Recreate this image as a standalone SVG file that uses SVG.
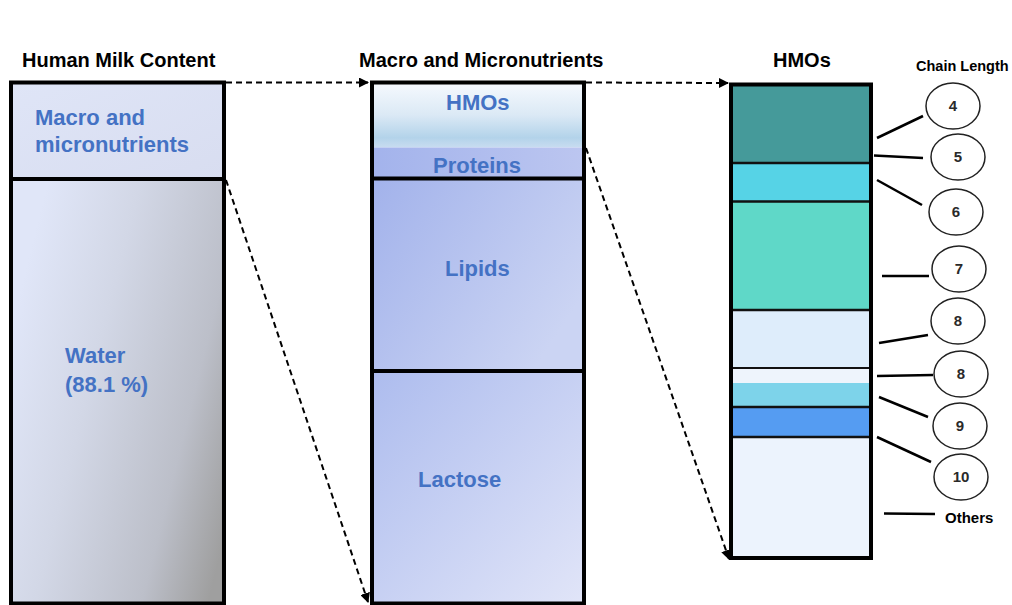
<svg xmlns="http://www.w3.org/2000/svg" width="1012" height="605" viewBox="0 0 1012 605">
  <defs>
    <linearGradient id="gTop" x1="0" y1="0" x2="1" y2="1">
      <stop offset="0" stop-color="#dfe5f7"/>
      <stop offset="1" stop-color="#d8ddf0"/>
    </linearGradient>
    <linearGradient id="gWater" x1="0" y1="0.35" x2="1" y2="0.85">
      <stop offset="0" stop-color="#e0e6f8"/>
      <stop offset="0.35" stop-color="#d2d7e6"/>
      <stop offset="0.75" stop-color="#bcbfc9"/>
      <stop offset="1" stop-color="#9f9f9f"/>
    </linearGradient>
    <linearGradient id="gHmo" x1="0" y1="0" x2="0" y2="1">
      <stop offset="0" stop-color="#f6f9fe"/>
      <stop offset="0.5" stop-color="#dbe9f5"/>
      <stop offset="0.85" stop-color="#b3d3ea"/>
      <stop offset="1" stop-color="#c8dcf0"/>
    </linearGradient>
    <linearGradient id="gProt" x1="0" y1="0" x2="1" y2="0">
      <stop offset="0" stop-color="#a3b3ec"/>
      <stop offset="1" stop-color="#bcc6f0"/>
    </linearGradient>
    <linearGradient id="gLip" x1="0" y1="0" x2="1" y2="0.6">
      <stop offset="0" stop-color="#a2b2eb"/>
      <stop offset="1" stop-color="#cbd4f3"/>
    </linearGradient>
    <linearGradient id="gLac" x1="0" y1="0" x2="1" y2="1">
      <stop offset="0" stop-color="#adbcee"/>
      <stop offset="1" stop-color="#e1e5f8"/>
    </linearGradient>
    <marker id="arrow" viewBox="0 0 10 10" refX="9" refY="5" markerWidth="5" markerHeight="5" orient="auto">
      <path d="M0,0 L10,5 L0,10 z" fill="#000"/>
    </marker>
  </defs>
  <style>
    .title { font-family: "Liberation Sans", Arial, sans-serif; font-weight: bold; font-size: 20px; fill: #000; }
    .lbl { font-family: "Liberation Sans", Arial, sans-serif; font-weight: bold; font-size: 22px; fill: #4472c4; }
    .num { font-family: "Liberation Sans", Arial, sans-serif; font-weight: bold; font-size: 15px; fill: #2a2a2a; text-anchor: middle; }
    .frame { fill: none; stroke: #000; stroke-width: 4; }
    .div { stroke: #000; stroke-width: 4; }
    .seg { stroke: #111; stroke-width: 2.5; }
    .dash { fill: none; stroke: #000; stroke-width: 2; stroke-dasharray: 6 4; }
    .lead { stroke: #000; stroke-width: 2.5; }
    .circ { fill: #fff; stroke: #222; stroke-width: 1.5; }
  </style>

  <rect width="1012" height="605" fill="#fff"/>

  <!-- column headings -->
  <text class="title" x="22" y="67">Human Milk Content</text>
  <text class="title" x="359" y="67">Macro and Micronutrients</text>
  <text class="title" x="773" y="67">HMOs</text>
  <text class="title" x="916" y="71" style="font-size:14.5px">Chain Length</text>

  <!-- whole milk -->
  <g id="milk">
    <rect x="11" y="82.5" width="213" height="96.5" fill="url(#gTop)"/>
    <rect x="11" y="179" width="213" height="424.5" fill="url(#gWater)"/>
    <rect class="frame" x="11" y="82.5" width="213" height="521"/>
    <line class="div" x1="11" y1="179" x2="224" y2="179"/>
    <text class="lbl" x="35" y="125">Macro and</text>
    <text class="lbl" x="35" y="152">micronutrients</text>
    <text class="lbl" x="65" y="363">Water</text>
    <text class="lbl" x="65" y="392">(88.1 %)</text>
  </g>

  <!-- macro and micronutrients -->
  <g id="nutrients">
    <rect x="372" y="82.5" width="212" height="65" fill="url(#gHmo)"/>
    <rect x="372" y="147.5" width="212" height="31" fill="url(#gProt)"/>
    <rect x="372" y="178.5" width="212" height="192.5" fill="url(#gLip)"/>
    <rect x="372" y="371" width="212" height="232.5" fill="url(#gLac)"/>
    <rect class="frame" x="372" y="82.5" width="212" height="521"/>
    <line class="div" x1="372" y1="178.5" x2="584" y2="178.5"/>
    <line class="div" x1="372" y1="371" x2="584" y2="371"/>
    <text class="lbl" x="446" y="110">HMOs</text>
    <text class="lbl" x="433" y="173">Proteins</text>
    <text class="lbl" x="445" y="276">Lipids</text>
    <text class="lbl" x="418" y="487">Lactose</text>
  </g>

  <!-- HMO composition bar -->
  <g id="hmo-bar">
    <rect x="731" y="84.5" width="140" height="78.5" fill="#459a9a"/>
    <rect x="731" y="163" width="140" height="38.5" fill="#56d3e6"/>
    <rect x="731" y="201.5" width="140" height="108.5" fill="#5fd8c8"/>
    <rect x="731" y="310" width="140" height="58" fill="#deedfb"/>
    <rect x="731" y="368" width="140" height="15" fill="#eef4fc"/>
    <rect x="731" y="383" width="140" height="23.5" fill="#7dd3ea"/>
    <rect x="731" y="406.5" width="140" height="30.5" fill="#559cf2"/>
    <rect x="731" y="437" width="140" height="121" fill="#ecf3fd"/>
    <line class="seg" x1="731" y1="163" x2="871" y2="163"/>
    <line class="seg" x1="731" y1="201.5" x2="871" y2="201.5"/>
    <line class="seg" x1="731" y1="310" x2="871" y2="310"/>
    <line class="seg" x1="731" y1="368" x2="871" y2="368" style="stroke-width:2"/>
    <line class="seg" x1="731" y1="407" x2="871" y2="407"/>
    <line class="seg" x1="731" y1="437" x2="871" y2="437"/>
    <rect class="frame" x="731" y="84.5" width="140" height="473.5"/>
  </g>

  <!-- chain length labels -->
  <g id="len-4"><ellipse class="circ" cx="953" cy="106" rx="27" ry="23"/><text class="num" x="953" y="111">4</text></g>
  <g id="len-5"><ellipse class="circ" cx="958" cy="157" rx="27" ry="23"/><text class="num" x="958" y="162">5</text></g>
  <g id="len-6"><ellipse class="circ" cx="956" cy="212" rx="27" ry="23"/><text class="num" x="956" y="217">6</text></g>
  <g id="len-7"><ellipse class="circ" cx="959" cy="269" rx="27" ry="23"/><text class="num" x="959" y="274">7</text></g>
  <g id="len-8a"><ellipse class="circ" cx="958" cy="321" rx="27" ry="23"/><text class="num" x="958" y="326">8</text></g>
  <g id="len-8b"><ellipse class="circ" cx="961" cy="374" rx="27" ry="23"/><text class="num" x="961" y="379">8</text></g>
  <g id="len-9"><ellipse class="circ" cx="960" cy="426" rx="27" ry="23"/><text class="num" x="960" y="431">9</text></g>
  <g id="len-10"><ellipse class="circ" cx="961" cy="477" rx="27" ry="23"/><text class="num" x="961" y="482">10</text></g>
  <g id="len-others"><text class="title" x="945" y="523" style="font-size:15px">Others</text></g>

  <!-- connectors -->
  <g id="connectors">
    <line class="dash" x1="226" y1="82.5" x2="368" y2="82.5" marker-end="url(#arrow)"/>
    <line class="dash" x1="586" y1="82.5" x2="728" y2="83" marker-end="url(#arrow)"/>
    <line class="dash" x1="226" y1="180" x2="368" y2="602" marker-end="url(#arrow)"/>
    <line class="dash" x1="586" y1="148" x2="729" y2="559" marker-end="url(#arrow)"/>
    <line class="lead" x1="877" y1="138" x2="923" y2="116"/>
    <line class="lead" x1="874" y1="155.5" x2="923" y2="158"/>
    <line class="lead" x1="877" y1="180" x2="922" y2="205"/>
    <line class="lead" x1="882" y1="276" x2="929" y2="276"/>
    <line class="lead" x1="879" y1="343" x2="928" y2="335"/>
    <line class="lead" x1="877" y1="376" x2="933" y2="375"/>
    <line class="lead" x1="879" y1="397" x2="928" y2="417"/>
    <line class="lead" x1="877" y1="437" x2="931" y2="462"/>
    <line class="lead" x1="884" y1="513.5" x2="935" y2="514"/>
  </g>
</svg>
